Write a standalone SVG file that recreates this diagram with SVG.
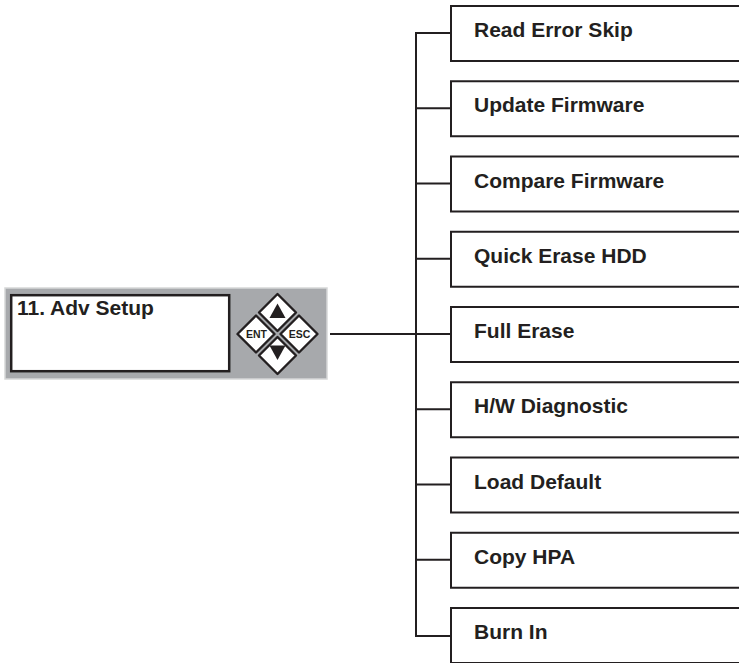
<svg xmlns="http://www.w3.org/2000/svg" width="739" height="663" viewBox="0 0 739 663">
<style>
.box{fill:#ffffff;stroke:none}
.edge{fill:none;stroke:#231f20;stroke-width:2}
.lbl{font-family:"Liberation Sans",Arial,sans-serif;font-weight:bold;font-size:21px;fill:#231f20}
.key{fill:#ffffff;stroke:#231f20;stroke-width:2.4;stroke-linejoin:round}
.keytxt{font-family:"Liberation Sans",Arial,sans-serif;font-weight:bold;font-size:10.5px;fill:#231f20;text-anchor:middle}
.conn{fill:none;stroke:#231f20;stroke-width:2}
</style>
<rect width="739" height="663" fill="#ffffff"/>

<g id="panel">
  <rect x="5" y="288" width="322" height="91" fill="#a7a9ac" stroke="#d6d7d8" stroke-width="1.5"/>
  <rect x="11.2" y="295.2" width="218" height="76" fill="#ffffff" stroke="#231f20" stroke-width="2.5"/>
  <text class="lbl" x="17" y="315">11. Adv Setup</text>
  <g id="key-up">
    <polygon class="key" points="277.5,294 296,312.5 277.5,331 259,312.5"/>
    <polygon points="277.5,303.5 285.5,318 269.5,318" fill="#231f20"/>
  </g>
  <g id="key-down">
    <polygon class="key" points="277.5,337 296,355.5 277.5,374 259,355.5"/>
    <polygon points="269.5,345.5 285.5,345.5 277.5,360" fill="#231f20"/>
  </g>
  <g id="key-ent">
    <polygon class="key" points="256,315.5 274.5,334 256,352.5 237.5,334"/>
    <text class="keytxt" x="256.5" y="338">ENT</text>
  </g>
  <g id="key-esc">
    <polygon class="key" points="299,315.5 317.5,334 299,352.5 280.5,334"/>
    <text class="keytxt" x="299.5" y="338">ESC</text>
  </g>
</g>

<g id="connectors">
  <line class="conn" x1="330" y1="334" x2="416" y2="334"/>
  <line class="conn" x1="416" y1="33" x2="416" y2="636"/>
  <path class="conn" d="M415 33H451M415 108.25H451M415 183.5H451M415 258.75H451M415 334H451M415 409.25H451M415 484.5H451M415 559.75H451M415 636H451"/>
</g>

<g id="n1"><path class="edge" d="M740 6H451V61H740"/><text class="lbl" x="474" y="37">Read Error Skip</text></g>
<g id="n2"><path class="edge" d="M740 81.25H451V136.25H740"/><text class="lbl" x="474" y="112.25">Update Firmware</text></g>
<g id="n3"><path class="edge" d="M740 156.5H451V211.5H740"/><text class="lbl" x="474" y="187.5">Compare Firmware</text></g>
<g id="n4"><path class="edge" d="M740 231.75H451V286.75H740"/><text class="lbl" x="474" y="262.75">Quick Erase HDD</text></g>
<g id="n5"><path class="edge" d="M740 307H451V362H740"/><text class="lbl" x="474" y="338">Full Erase</text></g>
<g id="n6"><path class="edge" d="M740 382.25H451V437.25H740"/><text class="lbl" x="474" y="413.25">H/W Diagnostic</text></g>
<g id="n7"><path class="edge" d="M740 457.5H451V512.5H740"/><text class="lbl" x="474" y="488.5">Load Default</text></g>
<g id="n8"><path class="edge" d="M740 532.75H451V587.75H740"/><text class="lbl" x="474" y="563.75">Copy HPA</text></g>
<g id="n9"><path class="edge" d="M740 608H451V663H740"/><text class="lbl" x="474" y="639">Burn In</text></g>
</svg>
